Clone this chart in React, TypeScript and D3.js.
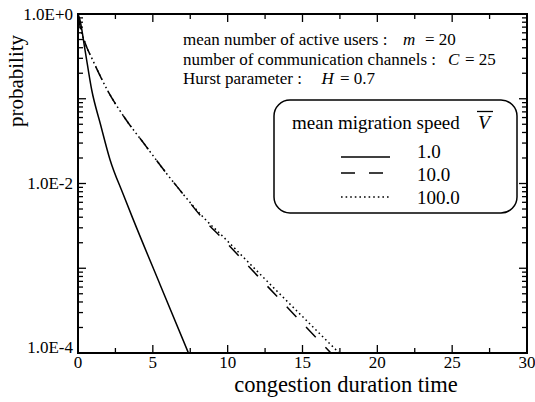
import React from "react";
import * as d3 from "d3";

const W = 535;
const H = 402;

// data: congestion duration time vs probability
const timeSolid = [0, 0.13, 0.47, 0.92, 1.5, 2.14, 3.0, 3.7, 5.5, 7.38];
const probSolid = [1, 0.851, 0.376, 0.126, 0.0501, 0.0191, 0.0076, 0.00372, 0.000631, 0.0001];

const timeDashed = [0, 0.13, 0.47, 1.0, 2.0, 3.14, 4.5, 5.82, 7.0, 8.38, 9.7, 12, 15, 16.9];
const probDashed = [1, 0.724, 0.457, 0.282, 0.123, 0.0589, 0.0282, 0.0138, 0.00759, 0.0038, 0.00219, 0.000813, 0.000224, 0.0001];

const timeDotted = [0, 0.13, 0.47, 1.0, 2.0, 3.14, 4.5, 5.82, 7.0, 8.38, 9.6, 12, 15, 17.45];
const probDotted = [1, 0.724, 0.457, 0.282, 0.123, 0.0589, 0.0282, 0.0138, 0.00759, 0.00398, 0.00245, 0.000912, 0.000269, 0.0001];

const xMajorTicks = [0, 5, 10, 15, 20, 25, 30];
const xMinorTicks = [2.5, 7.5, 12.5, 17.5, 22.5, 27.5];
const yDecades = [1, 0.1, 0.01, 0.001, 0.0001];
const yLabels: { v: number; t: string; dy: number }[] = [
  { v: 1, t: "1.0E+0", dy: 5.5 },
  { v: 0.01, t: "1.0E-2", dy: 5.5 },
  { v: 0.0001, t: "1.0E-4", dy: 0 },
];
const legendLabels = ["1.0", "10.0", "100.0"];
const legendDash = ["none", "14,14", "1.6,3"];

const FONT = "'Liberation Serif', 'Times New Roman', serif";

export default function App() {
  const left = 78, right = 527, top = 14, bottom = 353;
  const x = d3.scaleLinear().domain([0, 30]).range([left, right]);
  const y = d3.scaleLog().domain([1e-4, 1]).range([bottom, top]);

  const line = d3
    .line<[number, number]>()
    .x((d) => x(d[0]))
    .y((d) => y(d[1]))
    .curve(d3.curveMonotoneX);

  const series = [
    { t: timeSolid, p: probSolid, dash: legendDash[0] },
    { t: timeDashed, p: probDashed, dash: legendDash[1] },
    { t: timeDotted, p: probDotted, dash: legendDash[2] },
  ];

  const yMinor: number[] = [];
  for (let i = 1; i < yDecades.length; i++) {
    const base = yDecades[i];
    for (let k = 2; k <= 9; k++) yMinor.push(base * k);
  }

  const majorLen = 8;
  const minorLen = 5;
  const legendBase = [157.5, 180.5, 204];
  const legendLineY = [157, 173, 197];

  return (
    <svg
      width={W}
      height={H}
      style={{ position: "absolute", left: 0, top: 0, background: "#fff" }}
      fontFamily={FONT}
    >
      <rect x={0} y={0} width={W} height={H} fill="#fff" />
      <defs>
        <clipPath id="plot">
          <rect x={left} y={top} width={right - left} height={bottom - top} />
        </clipPath>
      </defs>

      {/* curves */}
      <g clipPath="url(#plot)">
        {series.map((s, i) => (
          <path
            key={i}
            d={line(s.t.map((t, j) => [t, s.p[j]] as [number, number])) || ""}
            fill="none"
            stroke="#000"
            strokeWidth={1.5}
            strokeDasharray={s.dash}
          />
        ))}
      </g>

      {/* ticks */}
      <g stroke="#000" strokeWidth={1.3}>
        {xMajorTicks.map((v) => (
          <g key={"xm" + v}>
            <line x1={x(v)} x2={x(v)} y1={bottom} y2={bottom - majorLen} />
            <line x1={x(v)} x2={x(v)} y1={top} y2={top + majorLen} />
          </g>
        ))}
        {xMinorTicks.map((v) => (
          <g key={"xn" + v}>
            <line x1={x(v)} x2={x(v)} y1={bottom} y2={bottom - minorLen} />
            <line x1={x(v)} x2={x(v)} y1={top} y2={top + minorLen} />
          </g>
        ))}
        {yDecades.map((v) => (
          <g key={"ym" + v}>
            <line x1={left} x2={left + majorLen} y1={y(v)} y2={y(v)} />
            <line x1={right} x2={right - majorLen} y1={y(v)} y2={y(v)} />
          </g>
        ))}
        {yMinor.map((v, i) => (
          <g key={"yn" + i}>
            <line x1={left} x2={left + minorLen} y1={y(v)} y2={y(v)} />
            <line x1={right} x2={right - minorLen} y1={y(v)} y2={y(v)} />
          </g>
        ))}
      </g>

      {/* frame */}
      <rect
        x={left}
        y={top}
        width={right - left}
        height={bottom - top}
        fill="none"
        stroke="#000"
        strokeWidth={2}
      />

      {/* tick labels */}
      <g fontSize={17} fill="#000">
        {xMajorTicks.map((v) => (
          <text key={"xl" + v} x={x(v)} y={bottom + 15} textAnchor="middle">
            {v}
          </text>
        ))}
        {yLabels.map((l) => (
          <text key={"yl" + l.t} x={73} y={y(l.v) + l.dy} textAnchor="end">
            {l.t}
          </text>
        ))}
      </g>

      {/* axis titles */}
      <text x={346} y={392} fontSize={22.5} textAnchor="middle">
        congestion duration time
      </text>
      <text
        transform="translate(23,81) rotate(-90)"
        fontSize={21}
        textAnchor="middle"
      >
        probability
      </text>

      {/* parameter annotations */}
      <g fontSize={17}>
        <text x={183} y={45}>mean number of active users :</text>
        <text x={403} y={45} fontStyle="italic">m</text>
        <text x={425} y={45}>= 20</text>
        <text x={183} y={64.5}>number of communication channels :</text>
        <text x={448} y={64.5} fontStyle="italic">C</text>
        <text x={465} y={64.5}>= 25</text>
        <text x={183} y={84}>Hurst parameter :</text>
        <text x={321.5} y={84} fontStyle="italic">H</text>
        <text x={340} y={84}>= 0.7</text>
      </g>

      {/* legend */}
      <rect
        x={274}
        y={100}
        width={243}
        height={113}
        rx={16}
        ry={16}
        fill="#fff"
        stroke="#000"
        strokeWidth={1.5}
      />
      <text x={292} y={129} fontSize={19}>mean migration speed</text>
      <text x={478} y={129} fontSize={19.5} fontStyle="italic">V</text>
      <line x1={477} x2={493} y1={111.5} y2={111.5} stroke="#000" strokeWidth={1.3} />
      {legendLabels.map((lab, i) => (
        <g key={lab}>
          <line
            x1={341}
            x2={390}
            y1={legendLineY[i]}
            y2={legendLineY[i]}
            stroke="#000"
            strokeWidth={1.5}
            strokeDasharray={legendDash[i]}
          />
          <text x={417} y={legendBase[i]} fontSize={19}>
            {lab}
          </text>
        </g>
      ))}
    </svg>
  );
}
